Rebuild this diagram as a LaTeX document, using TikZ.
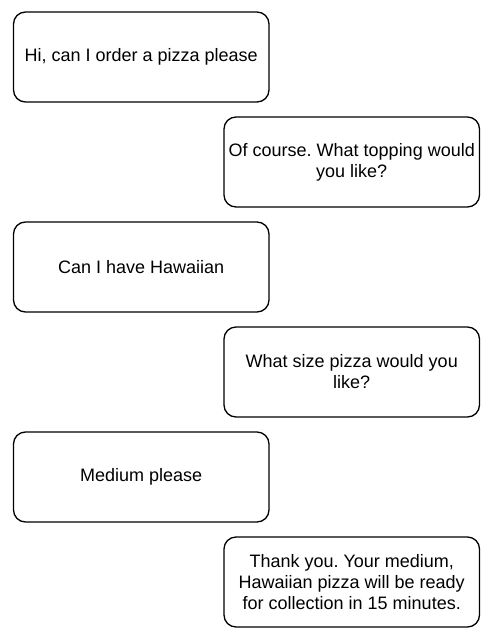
\documentclass[tikz,border=0pt]{standalone}
\usepackage{fontspec}
\setmainfont{Liberation Sans}
\usepackage{tikz}
\frenchspacing
\tikzset{msgbox/.style={draw=black,line width=1.3pt,rounded corners=12pt,
    minimum width=255.5pt,minimum height=90pt,inner sep=0pt,align=center,
    font=\fontsize{18}{21}\selectfont}}

\begin{document}
\begin{tikzpicture}[x=1pt,y=-1pt]
          \useasboundingbox (0,0) rectangle (496,642);

          % Client
          \begin{scope}[every node/.style={msgbox}]
              \node (Q1) at (141.25,57) {Hi, can I order a pizza please};
              \node (Q2) at (141.25,267) {Can I have Hawaiian};
              \node (Q3) at (141.25,477) {Medium please};
          \end{scope}

          % Pizzeria
          \begin{scope}[every node/.style={msgbox}]
              \node (A1) at (351.75,162) {Of course. What topping would\\you like?};
              \node (A2) at (351.75,372) {What size pizza would you\\like?};
              \node (A3) at (351.75,582) {Thank you. Your medium,\\Hawaiian pizza will be ready\\for collection in 15 minutes.};
          \end{scope}
\end{tikzpicture}
\end{document}
